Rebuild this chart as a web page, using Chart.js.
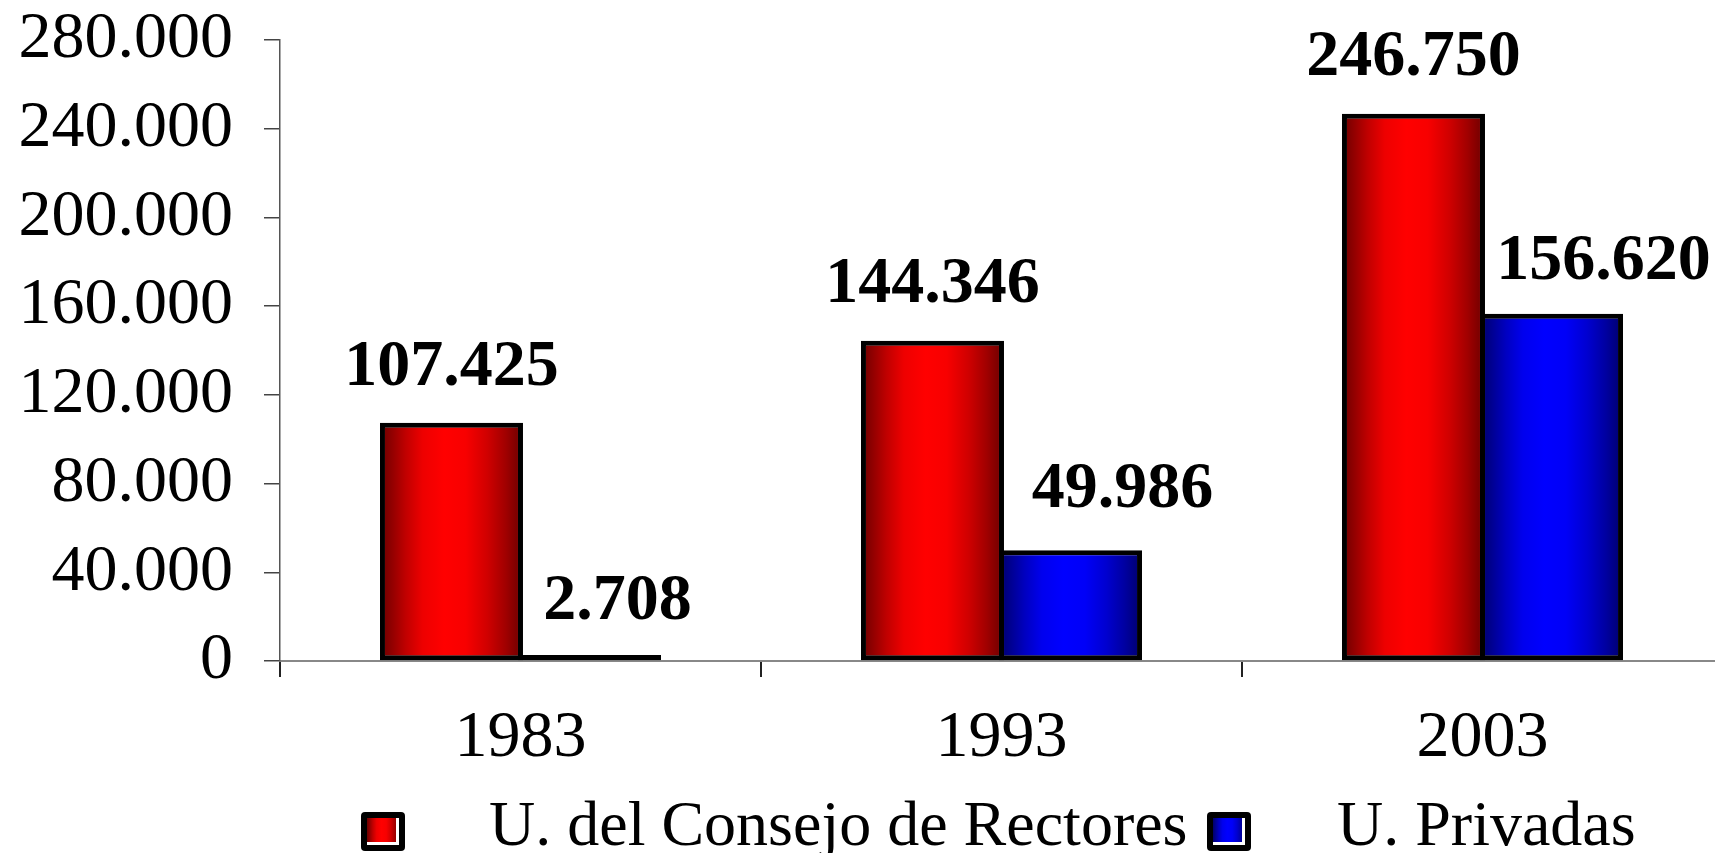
<!DOCTYPE html>
<html><head><meta charset="utf-8">
<script src="https://cdn.jsdelivr.net/npm/chart.js@4.4.0/dist/chart.umd.min.js"></script>
<style>html,body{margin:0;padding:0;background:#fff;overflow:hidden;}canvas{display:block;}</style>
</head><body>
<canvas id="c" width="1730" height="853" style="width:1730px;height:853px"></canvas>
<script>
// ---- data ----
const categories = ['1983', '1993', '2003'];
const seriesNames = ['U. del Consejo de Rectores', 'U. Privadas'];
const consejoValues = [107425, 144346, 246750];
const privadasValues = [2708, 49986, 156620];
const yTickValues = [0, 40000, 80000, 120000, 160000, 200000, 240000, 280000];

// ---- style ----
const FONT = '"Liberation Serif", "Times New Roman", serif';
const gradientStops = [
  [[0, '#6a0000'], [0.08, '#900000'], [0.18, '#c00000'], [0.3, '#ee0000'], [0.45, '#ff0000'], [0.6, '#f80000'], [0.75, '#d00000'], [0.88, '#a00000'], [1, '#6a0000']],
  [[0, '#00006a'], [0.08, '#000090'], [0.18, '#0000c0'], [0.3, '#0000ee'], [0.45, '#0000ff'], [0.6, '#0000f8'], [0.75, '#0000d0'], [0.88, '#0000a0'], [1, '#00006a']]
];
const labelShiftX = [[0, 0, 0], [28, 52, 52]];
const labelGap = [[38, 39, 39], [36, 43, 35]];
const legendItems = [{box: 361, text: 489}, {box: 1207, text: 1337}];

function fmt(v) { return String(v).replace(/\B(?=(\d{3})+(?!\d))/g, '.'); }

function makeGrad(ctx, l, r, i) {
  const g = ctx.createLinearGradient(l, 0, r, 0);
  gradientStops[i].forEach(([o, c]) => g.addColorStop(o, c));
  return g;
}

const gradientPlugin = {
  id: 'barGradient',
  beforeDatasetsDraw(chart) {
    const ctx = chart.ctx;
    chart.data.datasets.forEach((ds, i) => {
      chart.getDatasetMeta(i).data.forEach(el => {
        const l = el.x - el.width / 2, r = el.x + el.width / 2;
        el.options = Object.assign({}, el.options, {backgroundColor: makeGrad(ctx, l, r, i)});
      });
    });
  }
};

const valueLabelPlugin = {
  id: 'valueLabels',
  afterDatasetsDraw(chart) {
    const ctx = chart.ctx;
    ctx.save();
    ctx.font = 'bold 66px ' + FONT;
    ctx.fillStyle = '#000';
    ctx.textAlign = 'center';
    ctx.textBaseline = 'alphabetic';
    chart.data.datasets.forEach((ds, i) => {
      chart.getDatasetMeta(i).data.forEach((el, j) => {
        ctx.fillText(fmt(ds.data[j]), el.x + labelShiftX[i][j], el.y - labelGap[i][j]);
      });
    });
    ctx.restore();
  }
};

const legendPlugin = {
  id: 'customLegend',
  afterDraw(chart) {
    const ctx = chart.ctx;
    ctx.save();
    chart.data.datasets.forEach((ds, i) => {
      const it = legendItems[i];
      const bx = it.box, by = 812, bw = 44, bh = 39;
      ctx.fillStyle = '#000';
      ctx.beginPath();
      ctx.roundRect(bx, by, bw, bh, 4);
      ctx.fill();
      ctx.fillStyle = makeGrad(ctx, bx + 6, bx + bw - 6, i);
      ctx.fillRect(bx + 6, by + 6, bw - 12, bh - 12);
      ctx.fillStyle = '#fff';
      ctx.fillRect(bx + bw - 9, by + 6, 3, bh - 12);
      ctx.fillRect(bx + 6, by + bh - 9, bw - 12, 3);
      ctx.fillStyle = '#000';
      ctx.font = '64px ' + FONT;
      ctx.textAlign = 'left';
      ctx.textBaseline = 'alphabetic';
      ctx.fillText(ds.label, it.text, 845);
    });
    ctx.restore();
  }
};

new Chart(document.getElementById('c'), {
  type: 'bar',
  data: {
    labels: categories,
    datasets: [
      {label: seriesNames[0], data: consejoValues, backgroundColor: '#ff0000'},
      {label: seriesNames[1], data: privadasValues, backgroundColor: '#0000ff'}
    ]
  },
  options: {
    responsive: false,
    devicePixelRatio: 1,
    animation: false,
    layout: {padding: {top: 40, right: 7, bottom: 0, left: 0}},
    datasets: {
      bar: {
        categoryPercentage: 0.574,
        barPercentage: 1.036,
        borderColor: '#000',
        borderWidth: 5,
        borderSkipped: false
      }
    },
    plugins: {legend: {display: false}, tooltip: {enabled: false}},
    scales: {
      x: {
        offset: true,
        afterFit(s) { s.height = 192; },
        grid: {offset: true, drawOnChartArea: false, drawTicks: true, tickLength: 16, color: '#222', lineWidth: 2},
        border: {display: true, color: '#888', width: 2},
        ticks: {color: '#000', font: {family: FONT, size: 66, lineHeight: 1.2}, padding: 22, maxRotation: 0}
      },
      y: {
        min: 0, max: 280000,
        afterFit(s) { s.width = 280; },
        afterBuildTicks(s) { s.ticks = yTickValues.map(v => ({value: v})); },
        grid: {drawOnChartArea: false, drawTicks: true, tickLength: 16, color: '#444', lineWidth: 1.5},
        border: {display: true, color: '#555', width: 1.5},
        ticks: {color: '#000', font: {family: FONT, size: 66, lineHeight: 0.2}, padding: 31, callback: v => fmt(v)}
      }
    }
  },
  plugins: [gradientPlugin, valueLabelPlugin, legendPlugin]
});
</script>
</body></html>
